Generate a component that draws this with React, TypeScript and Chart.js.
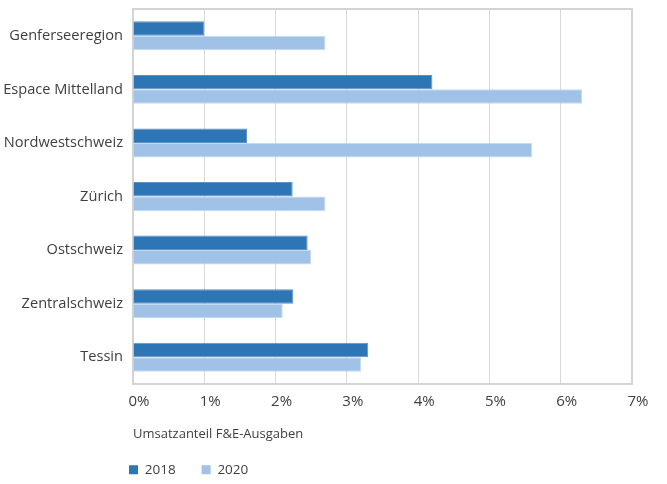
import React, { useEffect, useRef } from 'react';
import { Chart, registerables } from 'chart.js';

Chart.register(...registerables);

const categories = [
  'Genferseeregion',
  'Espace Mittelland',
  'Nordwestschweiz',
  'Zürich',
  'Ostschweiz',
  'Zentralschweiz',
  'Tessin',
];
const seriesLabels = ['2018', '2020'];
const values2018 = [1.0, 4.2, 1.6, 2.24, 2.45, 2.25, 3.3];
const values2020 = [2.7, 6.3, 5.6, 2.7, 2.5, 2.1, 3.2];
const xMin = 0;
const xMax = 7;
const xStep = 1;
const tickSuffix = '%';
const axisTitle = 'Umsatzanteil F&E-Ausgaben';

const FONT = "'Open Sans', 'Noto Sans', sans-serif";
const TEXT = '#404040';
const GRID = '#d9d9d9';

const framePlugin = {
  id: 'frame',
  afterLayout(chart: any) {
    const lg = chart.legend;
    const a = chart.chartArea;
    if (lg && a) {
      lg.left = a.left - 30;
      lg.top = a.bottom + 53;
    }
  },
  beforeDatasetsDraw(chart: any) {
    const { ctx, chartArea: a } = chart;
    ctx.save();
    ctx.strokeStyle = '#d4d4d4';
    ctx.lineWidth = 2;
    ctx.strokeRect(a.left, a.top, a.right - a.left, a.bottom - a.top);
    ctx.restore();
  },
};

export default function App() {
  const ref = useRef<HTMLCanvasElement | null>(null);

  useEffect(() => {
    if (!ref.current) return;
    Chart.defaults.font.family = FONT;
    const chart = new Chart(ref.current, {
      type: 'bar',
      data: {
        labels: categories,
        datasets: [
          {
            label: seriesLabels[0],
            data: values2018,
            backgroundColor: '#2e75b6',
            borderColor: '#5b92c8',
            borderWidth: 1,
            categoryPercentage: 0.54,
            barPercentage: 1,
          },
          {
            label: seriesLabels[1],
            data: values2020,
            backgroundColor: '#a0c2e6',
            borderColor: '#c4daf1',
            borderWidth: 1,
            categoryPercentage: 0.54,
            barPercentage: 1,
          },
        ],
      },
      options: {
        indexAxis: 'y',
        animation: false,
        responsive: true,
        maintainAspectRatio: false,
        layout: { padding: { top: 9, right: 35, bottom: 0, left: 0 } },
        scales: {
          x: {
            min: xMin,
            max: xMax,
            ticks: {
              stepSize: xStep,
              callback: (v: any) => `${v}${tickSuffix}`,
              color: TEXT,
              font: { size: 15, family: FONT },
              padding: 9,
              labelOffset: 6,
              maxRotation: 0,
            },
            grid: { color: GRID, lineWidth: 1, drawTicks: false },
            border: { display: false },
            title: {
              display: true,
              text: axisTitle,
              align: 'start',
              color: TEXT,
              font: { size: 13, family: FONT },
              padding: 0,
            },
            afterFit: (scale: any) => {
              scale.height = 58;
              scale.paddingLeft = 0;
              scale.paddingRight = 0;
            },
          },
          y: {
            ticks: {
              color: TEXT,
              font: { size: 14.6, family: FONT },
              padding: 10,
            },
            grid: { display: false, drawTicks: false },
            border: { display: false },
            afterFit: (scale: any) => {
              scale.width = 133;
              scale.paddingTop = 0;
              scale.paddingBottom = 0;
            },
          },
        },
        plugins: {
          legend: {
            position: 'bottom',
            align: 'start',
            maxHeight: 42,
            labels: {
              boxWidth: 9,
              boxHeight: 9,
              padding: 26,
              color: TEXT,
              font: { size: 13.5, family: FONT },
              generateLabels: (c: any) =>
                Chart.defaults.plugins.legend.labels
                  .generateLabels(c)
                  .map((l: any) => ({ ...l, lineWidth: 0 })),
            },
          },
          tooltip: { enabled: false },
        },
      },
      plugins: [framePlugin],
    });
    return () => chart.destroy();
  }, []);

  return (
    <div style={{ position: 'fixed', left: 0, top: 0, width: 667, height: 484, background: '#fff' }}>
      <canvas ref={ref} />
    </div>
  );
}
